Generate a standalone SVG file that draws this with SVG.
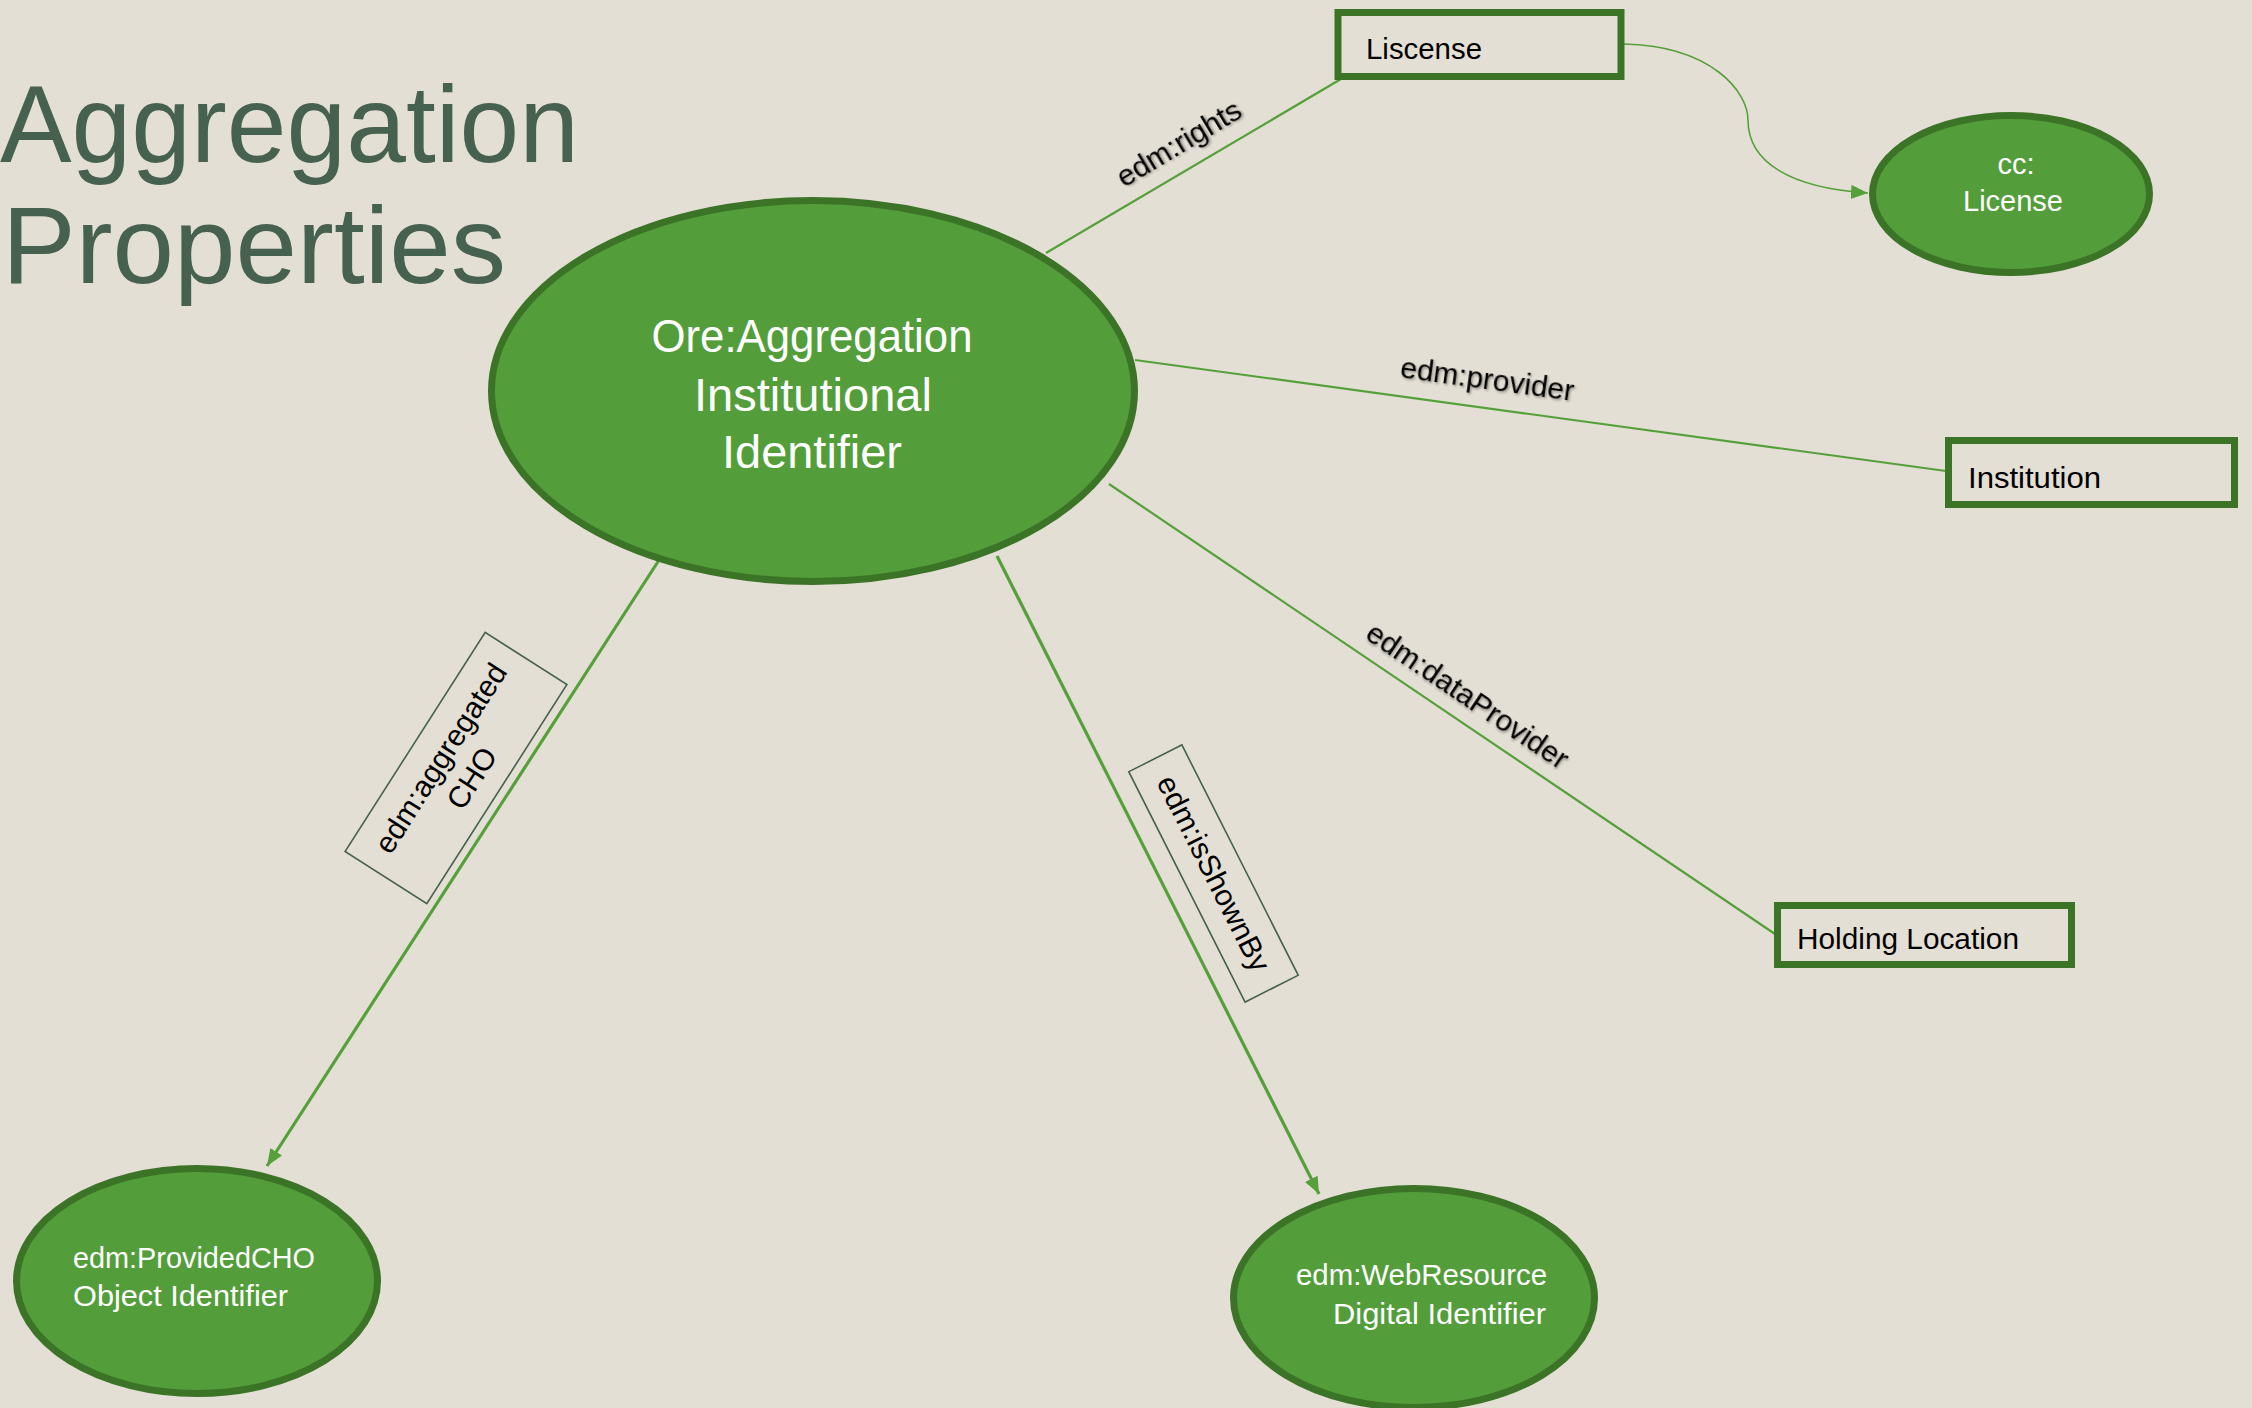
<svg xmlns="http://www.w3.org/2000/svg" width="2252" height="1408" viewBox="0 0 2252 1408">
<defs>
<style>
.bg{fill:#E4DFD4}
.title{font-family:"Liberation Sans",Arial,sans-serif;font-size:110px;fill:#46614F}
.ell{fill:#539E3A;stroke:#3C7427;stroke-width:7}
.box{fill:none;stroke:#3C7427;stroke-width:7}
.lbox{fill:none;stroke:#46614F;stroke-width:1.6}
.wt{font-family:"Liberation Sans",Arial,sans-serif;fill:#FFFFFF}
.bt{font-family:"Liberation Sans",Arial,sans-serif;fill:#000000;font-size:30px}
.el{font-family:"Liberation Sans",Arial,sans-serif;fill:#000000;font-size:30px;filter:url(#sh)}
.c1{fill:none;stroke:#55A03A;stroke-width:2.2}
.c2{fill:none;stroke:#55A03A;stroke-width:3.2}
.c3{fill:none;stroke:#55A03A;stroke-width:1.6}
</style>
<filter id="sh" x="-10%" y="-30%" width="120%" height="160%">
<feDropShadow dx="1.5" dy="1.5" stdDeviation="1.2" flood-color="#000" flood-opacity="0.35"/>
</filter>
<marker id="ah" markerUnits="userSpaceOnUse" markerWidth="20" markerHeight="16" refX="17" refY="7" orient="auto">
<path d="M0,0 L17,7 L0,14 z" fill="#55A03A"/>
</marker>
</defs>
<rect class="bg" x="0" y="0" width="2252" height="1408"/>

<g id="title">
<text class="title" x="0" y="162" textLength="579" lengthAdjust="spacingAndGlyphs">Aggregation</text>
<text class="title" x="2" y="283" textLength="504" lengthAdjust="spacingAndGlyphs">Properties</text>
</g>

<g id="connectors">
<line class="c1" x1="1046" y1="253" x2="1341" y2="79"/>
<line class="c1" x1="1135" y1="360" x2="1946" y2="471"/>
<line class="c1" x1="1109" y1="484" x2="1775" y2="934"/>
<line class="c2" x1="661" y1="557" x2="267" y2="1166" marker-end="url(#ah)"/>
<line class="c2" x1="997" y1="556" x2="1319" y2="1194" marker-end="url(#ah)"/>
<path class="c3" d="M1624,44 C1712,46 1748,92 1748,120 C1748,162 1790,188 1868,193" marker-end="url(#ah)"/>
<text class="el" text-anchor="middle" transform="translate(1184,152) rotate(-31)">edm:rights</text>
<text class="el" text-anchor="middle" transform="translate(1486,389) rotate(7.8)">edm:provider</text>
<text class="el" text-anchor="middle" transform="translate(1462,704) rotate(34)">edm:dataProvider</text>
<g transform="translate(456,768) rotate(-57.4)">
<rect class="lbox" x="-130" y="-48.5" width="260" height="97"/>
<text class="bt" text-anchor="middle" x="0" y="-8">edm:aggregated</text>
<text class="bt" text-anchor="middle" x="0" y="29">CHO</text>
</g>
<g transform="translate(1213.5,873.5) rotate(63.2)">
<rect class="lbox" x="-129" y="-29.75" width="258" height="59.5"/>
<text class="bt" text-anchor="middle" x="0" y="10">edm:isShownBy</text>
</g>
</g>

<g id="aggregation">
<ellipse class="ell" cx="813" cy="391" rx="321.5" ry="190.5"/>
<text class="wt" font-size="46" text-anchor="middle" x="812" y="352" textLength="321" lengthAdjust="spacingAndGlyphs">Ore:Aggregation</text>
<text class="wt" font-size="46" text-anchor="middle" x="813" y="411" textLength="238" lengthAdjust="spacingAndGlyphs">Institutional</text>
<text class="wt" font-size="46" text-anchor="middle" x="812" y="468" textLength="180" lengthAdjust="spacingAndGlyphs">Identifier</text>
</g>

<g id="liscense">
<rect class="box" x="1338" y="12.5" width="283" height="64"/>
<text class="bt" x="1366" y="59" textLength="116" lengthAdjust="spacingAndGlyphs">Liscense</text>
</g>

<g id="cc-license">
<ellipse class="ell" cx="2011" cy="194" rx="138.5" ry="78.5"/>
<text class="wt" font-size="29" text-anchor="middle" x="2016" y="174">cc:</text>
<text class="wt" font-size="29" text-anchor="middle" x="2013" y="211">License</text>
</g>

<g id="institution">
<rect class="box" x="1948.5" y="440.5" width="286" height="64"/>
<text class="bt" x="1968" y="488" textLength="133" lengthAdjust="spacingAndGlyphs">Institution</text>
</g>

<g id="holding-location">
<rect class="box" x="1777.5" y="905.5" width="294" height="59"/>
<text class="bt" x="1797" y="949" textLength="222" lengthAdjust="spacingAndGlyphs">Holding Location</text>
</g>

<g id="provided-cho">
<ellipse class="ell" cx="197" cy="1281" rx="180.5" ry="112.5"/>
<text class="wt" font-size="30" x="73" y="1268" textLength="242" lengthAdjust="spacingAndGlyphs">edm:ProvidedCHO</text>
<text class="wt" font-size="30" x="73" y="1306" textLength="215" lengthAdjust="spacingAndGlyphs">Object Identifier</text>
</g>

<g id="web-resource">
<ellipse class="ell" cx="1414" cy="1298" rx="180.5" ry="109.5"/>
<text class="wt" font-size="30" x="1296" y="1285" textLength="251" lengthAdjust="spacingAndGlyphs">edm:WebResource</text>
<text class="wt" font-size="30" x="1333" y="1324" textLength="213" lengthAdjust="spacingAndGlyphs">Digital Identifier</text>
</g>
</svg>
